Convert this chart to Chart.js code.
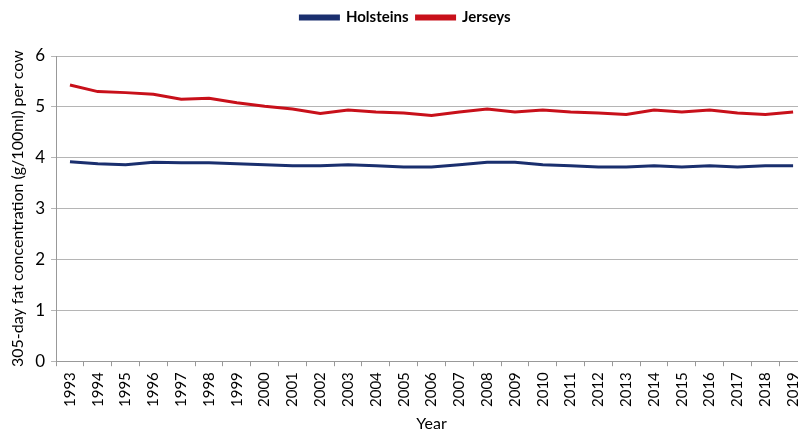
<!DOCTYPE html>
<html><head><meta charset="utf-8">
<script src="https://cdn.jsdelivr.net/npm/chart.js@4/dist/chart.umd.min.js"></script>
<style>html,body{margin:0;padding:0;background:#fff;overflow:hidden;}#wrap{width:798px;height:432px;overflow:hidden;}</style>
</head><body><div id="wrap"><canvas id="c" width="808" height="432"></canvas></div>
<script>
const years = ["1993","1994","1995","1996","1997","1998","1999","2000","2001","2002","2003","2004","2005","2006","2007","2008","2009","2010","2011","2012","2013","2014","2015","2016","2017","2018","2019"];
const holsteins = [3.92,3.88,3.86,3.91,3.90,3.90,3.88,3.86,3.84,3.84,3.86,3.84,3.82,3.82,3.86,3.91,3.91,3.86,3.84,3.82,3.82,3.84,3.82,3.84,3.82,3.84,3.84];
const jerseys = [5.43,5.30,5.28,5.25,5.15,5.17,5.08,5.01,4.96,4.87,4.94,4.90,4.88,4.83,4.90,4.96,4.90,4.94,4.90,4.88,4.85,4.94,4.90,4.94,4.88,4.85,4.90];
const yTicks = [0,1,2,3,4,5,6];
const FONT = "Lato, 'Open Sans', sans-serif";
const legendMargin = {id:'legendMargin', beforeInit(chart){const f = chart.legend.fit; chart.legend.fit = function(){f.bind(chart.legend)(); this.height += 21;};}};
new Chart(document.getElementById('c'), {
  type: 'line',
  data: { labels: years, datasets: [
    {label:'Holsteins', data: holsteins, borderColor:'#1a2f6e', backgroundColor:'#1a2f6e', borderWidth:3, pointRadius:0, tension:0},
    {label:'Jerseys', data: jerseys, borderColor:'#c8101a', backgroundColor:'#c8101a', borderWidth:3, pointRadius:0, tension:0}
  ]},
  plugins:[legendMargin],
  options: {
    responsive:false, animation:false, devicePixelRatio:1,
    layout:{padding:{left:4,right:1,top:2,bottom:0}},
    plugins:{
      legend:{position:'top', labels:{boxWidth:38, boxHeight:3, padding:8, color:'#000', font:{family:FONT, size:15, weight:'bold'}}},
      tooltip:{enabled:false}
    },
    scales:{
      x:{offset:true,
        afterFit:(s)=>{s.paddingRight=0;},
        grid:{offset:true, drawOnChartArea:false, color:'#999', tickLength:5},
        border:{color:'#999'},
        ticks:{maxRotation:90, minRotation:90, autoSkip:false, color:'#000', font:{family:FONT, size:15}, padding:6},
        title:{display:true, text:'Year', color:'#000', font:{family:FONT, size:16, lineHeight:1}, padding:{top:3,bottom:0}}
      },
      y:{min:0, max:6, afterBuildTicks:(ax)=>{ax.ticks = yTicks.map(v=>({value:v}));},
        grid:{color:'#b5b5b5', drawTicks:true, tickLength:5},
        border:{color:'#999'},
        ticks:{color:'#000', font:{family:FONT, size:17}, padding:6},
        title:{display:true, text:'305-day fat concentration (g/100ml) per cow', color:'#000', font:{family:FONT, size:16}, padding:{bottom:2}}
      }
    }
  }
});
</script></body></html>
